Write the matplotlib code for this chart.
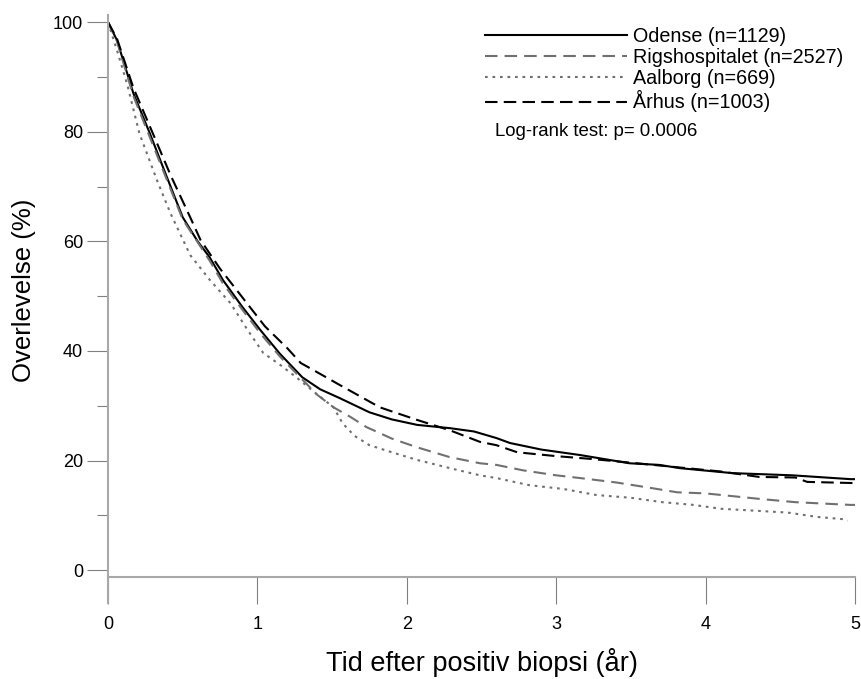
import matplotlib
matplotlib.use("Agg")
import matplotlib.pyplot as plt

plt.rcParams['font.family'] = ['Liberation Sans', 'DejaVu Sans']

# survival curves (years, % alive)
odense_t = [0, 0.06, 0.17, 0.28, 0.39, 0.5, 0.6, 0.68, 0.77, 0.9, 1.02, 1.15, 1.3, 1.42, 1.55, 1.75,
            1.9, 2.07, 2.29, 2.45, 2.6, 2.69, 2.9, 3.16, 3.49, 3.69, 3.83, 4.18, 4.58, 4.97, 5.0]
odense_s = [100, 96.7, 87, 79.7, 72, 64.4, 60, 57.1, 52.9, 48, 43.8, 39.5, 35.2, 33, 31.4, 28.8,
            27.5, 26.5, 25.9, 25.3, 24.1, 23.2, 22, 21, 19.5, 19.2, 18.6, 17.7, 17.3, 16.6, 16.6]

rigs_t = [0, 0.06, 0.17, 0.28, 0.39, 0.5, 0.68, 0.77, 0.9, 1.02, 1.15, 1.3, 1.4, 1.51, 1.62, 1.73,
          1.9, 2.07, 2.29, 2.49, 2.6, 2.78, 3.0, 3.16, 3.4, 3.61, 3.81, 4.0, 4.36, 4.6, 4.97, 5.0]
rigs_s = [100, 96.5, 86.5, 79, 71.5, 64, 56.5, 52.3, 47.5, 43.2, 39, 34.8, 32, 29.7, 28, 26.1,
          24, 22.4, 20.6, 19.5, 19.2, 18.2, 17.3, 16.8, 16, 15.1, 14.2, 14, 13, 12.4, 11.9, 11.9]

aalborg_t = [0, 0.07, 0.13, 0.21, 0.33, 0.42, 0.55, 0.68, 0.82, 0.93, 1.04, 1.15, 1.26, 1.38, 1.51,
             1.57, 1.65, 1.75, 1.9, 2.07, 2.29, 2.49, 2.6, 2.82, 3.05, 3.27, 3.5, 3.71, 3.92, 4.1,
             4.36, 4.55, 4.75, 4.92, 4.95]
aalborg_s = [100, 94, 88.5, 79.7, 71, 65, 57.5, 53, 48.7, 44, 39.6, 37.5, 35.2, 32.5, 29.7,
             26.8, 24.5, 22.8, 21.5, 20.1, 18.6, 17.3, 16.8, 15.5, 14.8, 13.7, 13.2, 12.4, 11.9, 11.2,
             10.8, 10.5, 9.7, 9.3, 9.0]

arhus_t = [0, 0.06, 0.17, 0.3, 0.42, 0.55, 0.62, 0.75, 0.93, 1.05, 1.2, 1.29, 1.44, 1.55, 1.82,
           2.07, 2.29, 2.49, 2.6, 2.74, 3.0, 3.23, 3.5, 3.8, 4.1, 4.36, 4.6, 4.68, 4.97, 5.0]
arhus_s = [100, 97, 88, 79.7, 72, 64.4, 60.2, 55, 48.7, 44.5, 40.5, 37.8, 35.5, 33.8, 29.7,
           27.4, 25.5, 23.4, 22.8, 21.5, 20.8, 20.3, 19.6, 18.8, 18, 17, 16.9, 16.1, 15.9, 15.9]

labels = ['Odense (n=1129)', 'Rigshospitalet (n=2527)', 'Aalborg (n=669)', 'Århus (n=1003)']

fig = plt.figure(figsize=(8.61, 6.79), dpi=100)
ax = fig.add_axes([108 / 861, 1 - 603 / 679, (855 - 108) / 861, (603 - 15) / 679])

lw = 1.5
ax.plot(odense_t, odense_s, color='black', lw=lw, label=labels[0])
ax.plot(rigs_t, rigs_s, color='#707070', lw=lw, dashes=(6.0, 3.4), label=labels[1])
ax.plot(aalborg_t, aalborg_s, color='#707070', lw=lw, dashes=(1.3, 2.3), label=labels[2])
ax.plot(arhus_t, arhus_s, color='black', lw=lw, dashes=(6.0, 3.0), label=labels[3])

ax.set_xlim(0, 5)
ax.set_ylim(-6, 101.3)

grey = '#a8a8a8'
for s in ['top', 'right']:
    ax.spines[s].set_visible(False)
ax.spines['left'].set_color(grey)
ax.spines['left'].set_linewidth(1.5)
ax.spines['bottom'].set_color(grey)
ax.spines['bottom'].set_linewidth(1.5)
ax.spines['bottom'].set_position(('data', -1.2))

ax.set_xticks([0, 1, 2, 3, 4, 5])
ax.set_yticks([0, 20, 40, 60, 80, 100])
ax.set_yticks([10, 30, 50, 70, 90], minor=True)
ax.tick_params(axis='x', direction='out', length=19.5, width=0.8, color='#808080',
               pad=9, labelsize=13)
ax.tick_params(axis='y', which='major', direction='out', length=15, width=0.8,
               color='#808080', pad=3, labelsize=13)
ax.tick_params(axis='y', which='minor', direction='out', length=8, width=0.8, color='#808080')

ax.set_xlabel('Tid efter positiv biopsi (år)', fontsize=19.5)
ax.xaxis.set_label_coords(0.5, -0.076)
ax.set_ylabel('Overlevelse (%)', fontsize=18.5)
ax.yaxis.set_label_coords(-0.097, 0.532)

leg = ax.legend(loc='upper right', bbox_to_anchor=(1.0, 1.0), frameon=False, fontsize=14.2,
                handlelength=7.2, handletextpad=0.3, labelspacing=0.11, borderaxespad=0.2)
ax.text(0.518, 0.802, 'Log-rank test: p= 0.0006', transform=ax.transAxes, fontsize=13.4,
        va='center', ha='left')

fig.savefig('out.png', dpi=100)
